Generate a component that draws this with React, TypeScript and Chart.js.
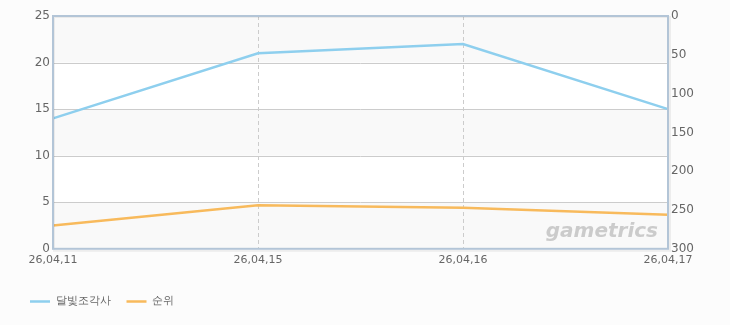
import React, { useEffect, useRef } from "react";
import { Chart, registerables } from "chart.js";

Chart.register(...registerables);

const categories = ["26,04,11", "26,04,15", "26,04,16", "26,04,17"];
const seriesPlayers = [14, 21, 22, 15];
const seriesRank = [270, 244, 247, 256];
const seriesNames = ["달빛조각사", "순위"];
const leftTicks = [0, 5, 10, 15, 20, 25];
const rightTicks = [0, 50, 100, 150, 200, 250, 300];

const FONT = "'DejaVu Sans', sans-serif";

const bandsPlugin = {
  id: "bands",
  beforeDatasetsDraw(chart: any) {
    const { ctx, chartArea } = chart;
    const y = chart.scales.y;
    ctx.save();
    for (let i = 0; i < leftTicks.length - 1; i++) {
      const top = y.getPixelForValue(leftTicks[i + 1]);
      const bot = y.getPixelForValue(leftTicks[i]);
      ctx.fillStyle = i % 2 === 0 ? "#f9f9f9" : "#ffffff";
      ctx.fillRect(chartArea.left, top, chartArea.right - chartArea.left, bot - top);
    }
    ctx.restore();
  },
};

const gridRedrawPlugin = {
  id: "gridRedraw",
  beforeDatasetsDraw(chart: any) {
    const { ctx, chartArea } = chart;
    const y = chart.scales.y;
    const x = chart.scales.x;
    ctx.save();
    ctx.strokeStyle = "#cccccc";
    ctx.lineWidth = 1;
    for (const t of leftTicks.slice(1, -1)) {
      const py = Math.round(y.getPixelForValue(t)) + 0.5;
      ctx.beginPath();
      ctx.moveTo(chartArea.left, py);
      ctx.lineTo(chartArea.right, py);
      ctx.stroke();
    }
    ctx.setLineDash([4, 3]);
    for (let i = 1; i < categories.length - 1; i++) {
      const px = Math.round(x.getPixelForValue(i)) + 0.5;
      ctx.beginPath();
      ctx.moveTo(px, chartArea.top);
      ctx.lineTo(px, chartArea.bottom);
      ctx.stroke();
    }
    ctx.restore();
  },
  afterDraw(chart: any) {
    const { ctx, chartArea } = chart;
    ctx.save();
    // watermark
    ctx.font = "italic bold 20px " + FONT;
    ctx.fillStyle = "rgba(165,165,165,0.55)";
    ctx.textAlign = "right";
    ctx.textBaseline = "alphabetic";
    ctx.fillText("gametrics", chartArea.right - 10, chartArea.bottom - 12);
    // shadow
    ctx.strokeStyle = "rgba(0,0,0,0.06)";
    ctx.lineWidth = 2;
    ctx.strokeRect(chartArea.left + 1, chartArea.top + 1, chartArea.right - chartArea.left + 1, chartArea.bottom - chartArea.top + 1);
    // border
    ctx.strokeStyle = "#b3c5d7";
    ctx.lineWidth = 2;
    ctx.strokeRect(chartArea.left, chartArea.top, chartArea.right - chartArea.left, chartArea.bottom - chartArea.top);
    ctx.restore();
  },
};

export default function App() {
  const ref = useRef<HTMLCanvasElement | null>(null);
  useEffect(() => {
    document.body.style.margin = "0";
    document.body.style.background = "#fcfcfc";
    const chart = new Chart(ref.current as HTMLCanvasElement, {
      type: "line",
      data: {
        labels: categories,
        datasets: [
          {
            label: seriesNames[0],
            data: seriesPlayers,
            borderColor: "#8ecfee",
            backgroundColor: "#8ecfee",
            borderWidth: 2.5,
            pointRadius: 0,
            tension: 0,
            yAxisID: "y",
          },
          {
            label: seriesNames[1],
            data: seriesRank,
            borderColor: "#f8ba5c",
            backgroundColor: "#f8ba5c",
            borderWidth: 2.5,
            pointRadius: 0,
            tension: 0,
            yAxisID: "y1",
          },
        ],
      },
      options: {
        animation: false,
        responsive: false,
        maintainAspectRatio: false,
        layout: { padding: { left: 14, right: 0, top: 16, bottom: 8 } },
        plugins: {
          tooltip: { enabled: false },
          legend: {
            position: "bottom",
            align: "start",
            labels: {
              usePointStyle: true,
              pointStyle: "line",
              pointStyleWidth: 20,
              boxHeight: 3,
              color: "#666666",
              font: { family: FONT, size: 11 },
              padding: 16,
            },
          },
        },
        scales: {
          x: {
            type: "category",
            offset: false,
            grid: { display: false, drawTicks: false },
            border: { display: false },
            ticks: {
              color: "#666666",
              font: { family: FONT, size: 11 },
              maxRotation: 0,
              autoSkip: false,
              padding: 5,
            },
            afterFit: (s: any) => {
              s.height += 8;
            },
          },
          y: {
            position: "left",
            min: 0,
            max: 25,
            afterBuildTicks: (s: any) => {
              s.ticks = leftTicks.map((v) => ({ value: v }));
            },
            afterFit: (s: any) => {
              s.width = 39;
            },
            grid: { display: false, drawTicks: false },
            border: { display: false },
            ticks: {
              color: "#666666",
              font: { family: FONT, size: 12 },
              padding: 3,
            },
          },
          y1: {
            position: "right",
            min: 0,
            max: 300,
            reverse: true,
            afterBuildTicks: (s: any) => {
              s.ticks = rightTicks.map((v) => ({ value: v }));
            },
            afterFit: (s: any) => {
              s.width = 62;
            },
            grid: { display: false, drawTicks: false },
            border: { display: false },
            ticks: {
              color: "#666666",
              font: { family: FONT, size: 12 },
              padding: 3,
            },
          },
        },
      },
      plugins: [bandsPlugin, gridRedrawPlugin],
    } as any);
    return () => chart.destroy();
  }, []);
  return <canvas ref={ref} width={730} height={325} style={{ display: "block" }} />;
}
